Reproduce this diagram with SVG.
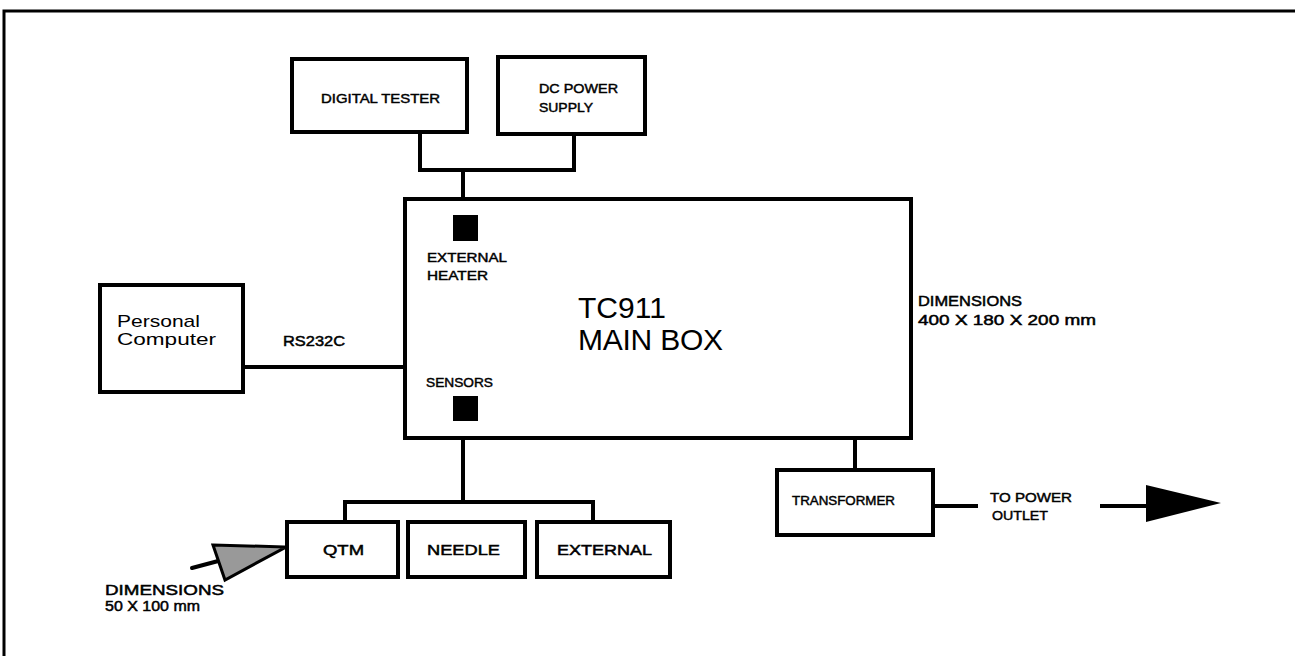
<svg xmlns="http://www.w3.org/2000/svg" width="1295" height="656" viewBox="0 0 1295 656">
<style>
.box{fill:#fff;stroke:#000;stroke-width:4}
.ln{fill:none;stroke:#000;stroke-width:4}
.t{font-family:"Liberation Sans",Arial,sans-serif;fill:#000}
.s{font-size:13px;stroke:#000;stroke-width:0.45}
.m{font-size:15px;stroke:#000;stroke-width:0.5}
</style>
<rect width="1295" height="656" fill="#fff"/>
<path d="M4,656 V11 H1295" fill="none" stroke="#000" stroke-width="3"/>
<g id="connectors">
<path class="ln" d="M420,132 V170 H574 V134"/>
<path class="ln" d="M463,170 V215"/>
<path class="ln" d="M243,367 H405"/>
<path class="ln" d="M463,420 V502"/>
<path class="ln" d="M345,522 V502 H593 V522"/>
<path class="ln" d="M855,438 V470"/>
<path class="ln" d="M933,506 H978"/>
<path class="ln" d="M1100,506 H1148" stroke-width="5"/>
<polygon points="1146,485 1221,503 1146,522" fill="#000"/>
<path class="ln" d="M192,568 L222,560" stroke-width="5" stroke-linecap="round"/>
<polygon points="213,545 286,547 225,580" fill="#999" stroke="#000" stroke-width="3"/>
</g>
<g id="digital-tester">
<rect class="box" x="292" y="59" width="175" height="73"/>
<text class="t s" x="321" y="103" textLength="119" lengthAdjust="spacingAndGlyphs">DIGITAL TESTER</text>
</g>
<g id="dc-power-supply">
<rect class="box" x="498" y="57" width="147" height="77"/>
<text class="t s" x="539" y="93" textLength="79" lengthAdjust="spacingAndGlyphs">DC POWER</text>
<text class="t s" x="539" y="112" textLength="54" lengthAdjust="spacingAndGlyphs">SUPPLY</text>
</g>
<g id="main-box">
<rect class="box" x="405" y="199" width="506" height="239"/>
<text class="t" x="578" y="318" font-size="30">TC911</text>
<text class="t" x="578" y="350" font-size="30" textLength="145">MAIN BOX</text>
</g>
<g id="external-heater">
<rect x="453" y="215" width="25" height="26" fill="#000"/>
<text class="t s" x="427" y="262" textLength="80" lengthAdjust="spacingAndGlyphs">EXTERNAL</text>
<text class="t s" x="427" y="280" textLength="61" lengthAdjust="spacingAndGlyphs">HEATER</text>
</g>
<g id="sensors">
<text class="t s" x="426" y="387" textLength="67" lengthAdjust="spacingAndGlyphs">SENSORS</text>
<rect x="453" y="396" width="25" height="25" fill="#000"/>
</g>
<g id="personal-computer">
<rect class="box" x="100" y="285" width="143" height="107"/>
<text class="t" x="117" y="327" font-size="17" textLength="83" lengthAdjust="spacingAndGlyphs">Personal</text>
<text class="t" x="117" y="345" font-size="17" textLength="99" lengthAdjust="spacingAndGlyphs">Computer</text>
</g>
<g id="rs232c-label">
<text class="t m" x="283" y="346" textLength="62" lengthAdjust="spacingAndGlyphs">RS232C</text>
</g>
<g id="main-dimensions">
<text class="t m" x="918" y="306" textLength="104" lengthAdjust="spacingAndGlyphs">DIMENSIONS</text>
<text class="t m" x="918" y="325" textLength="178" lengthAdjust="spacingAndGlyphs">400 X 180 X 200 mm</text>
</g>
<g id="transformer">
<rect class="box" x="777" y="470" width="156" height="65"/>
<text class="t s" x="792" y="505" textLength="103" lengthAdjust="spacingAndGlyphs">TRANSFORMER</text>
</g>
<g id="power-outlet-label">
<text class="t s" x="990" y="502" textLength="82" lengthAdjust="spacingAndGlyphs">TO POWER</text>
<text class="t s" x="992" y="520" textLength="56" lengthAdjust="spacingAndGlyphs">OUTLET</text>
</g>
<g id="qtm">
<rect class="box" x="287" y="522" width="111" height="55"/>
<text class="t m" x="323" y="555" font-size="17" textLength="41" lengthAdjust="spacingAndGlyphs">QTM</text>
</g>
<g id="needle">
<rect class="box" x="408" y="522" width="117" height="55"/>
<text class="t m" x="427" y="555" font-size="17" textLength="73" lengthAdjust="spacingAndGlyphs">NEEDLE</text>
</g>
<g id="external">
<rect class="box" x="537" y="522" width="133" height="55"/>
<text class="t m" x="557" y="555" font-size="17" textLength="95" lengthAdjust="spacingAndGlyphs">EXTERNAL</text>
</g>
<g id="qtm-dimensions">
<text class="t m" x="105" y="595" textLength="119" lengthAdjust="spacingAndGlyphs">DIMENSIONS</text>
<text class="t m" x="105" y="611" textLength="95" lengthAdjust="spacingAndGlyphs">50 X 100 mm</text>
</g>
</svg>
